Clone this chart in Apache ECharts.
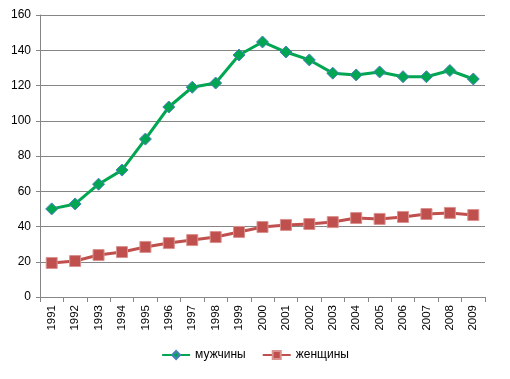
<!DOCTYPE html>
<html><head><meta charset="utf-8">
<script src="https://cdn.jsdelivr.net/npm/echarts@6/dist/echarts.min.js"></script>
<style>html,body{margin:0;padding:0;background:#fff}#c{width:510px;height:379px}</style>
</head><body><div id="c"></div>
<script>
const years = ['1991','1992','1993','1994','1995','1996','1997','1998','1999','2000','2001','2002','2003','2004','2005','2006','2007','2008','2009'];
const men = [50, 52.8, 64, 72, 89.6, 107.8, 119, 121.4, 137.3, 144.7, 139, 134.5, 127, 126, 127.7, 125, 125, 128.5, 123.7];
const women = [19.3, 20.4, 23.8, 25.5, 28.4, 30.6, 32.3, 34, 36.9, 39.7, 40.9, 41.4, 42.5, 44.8, 44.3, 45.4, 47.1, 47.7, 46.5];
const seriesNames = ['мужчины', 'женщины'];
const font = 'Liberation Sans, DejaVu Sans, sans-serif';
const chart = echarts.init(document.getElementById('c'));
chart.setOption({
  animation: false,
  grid: {left: 40, right: 25, top: 15, bottom: 82},
  legend: {
    bottom: 13, left: 'center', itemGap: 16, itemWidth: 28, itemHeight: 10,
    textStyle: {fontFamily: font, fontSize: 12, color: '#000'},
    data: seriesNames
  },
  xAxis: {
    type: 'category', data: years, boundaryGap: true,
    axisLine: {lineStyle: {color: '#868686'}},
    axisTick: {show: true, alignWithLabel: false, length: 5, lineStyle: {color: '#868686'}},
    axisLabel: {rotate: 90, color: '#000', fontFamily: font, fontSize: 11.5, margin: 8}
  },
  yAxis: {
    type: 'value', min: 0, max: 160, interval: 20,
    axisLine: {show: true, lineStyle: {color: '#868686'}},
    axisTick: {show: true, length: 4, lineStyle: {color: '#868686'}},
    splitLine: {lineStyle: {color: '#868686', width: 1}},
    axisLabel: {color: '#000', fontFamily: font, fontSize: 12, margin: 9}
  },
  series: [
    {name: seriesNames[0], type: 'line', data: men, symbol: 'diamond', symbolSize: 12,
     lineStyle: {color: '#00a651', width: 3}, itemStyle: {color: '#00a651', borderColor: '#4a7ebb', borderWidth: 1}},
    {name: seriesNames[1], type: 'line', data: women, symbol: 'rect', symbolSize: 11,
     lineStyle: {color: '#c0504d', width: 3}, itemStyle: {color: '#c0504d', borderColor: '#d9928f', borderWidth: 1}}
  ]
});
</script></body></html>
